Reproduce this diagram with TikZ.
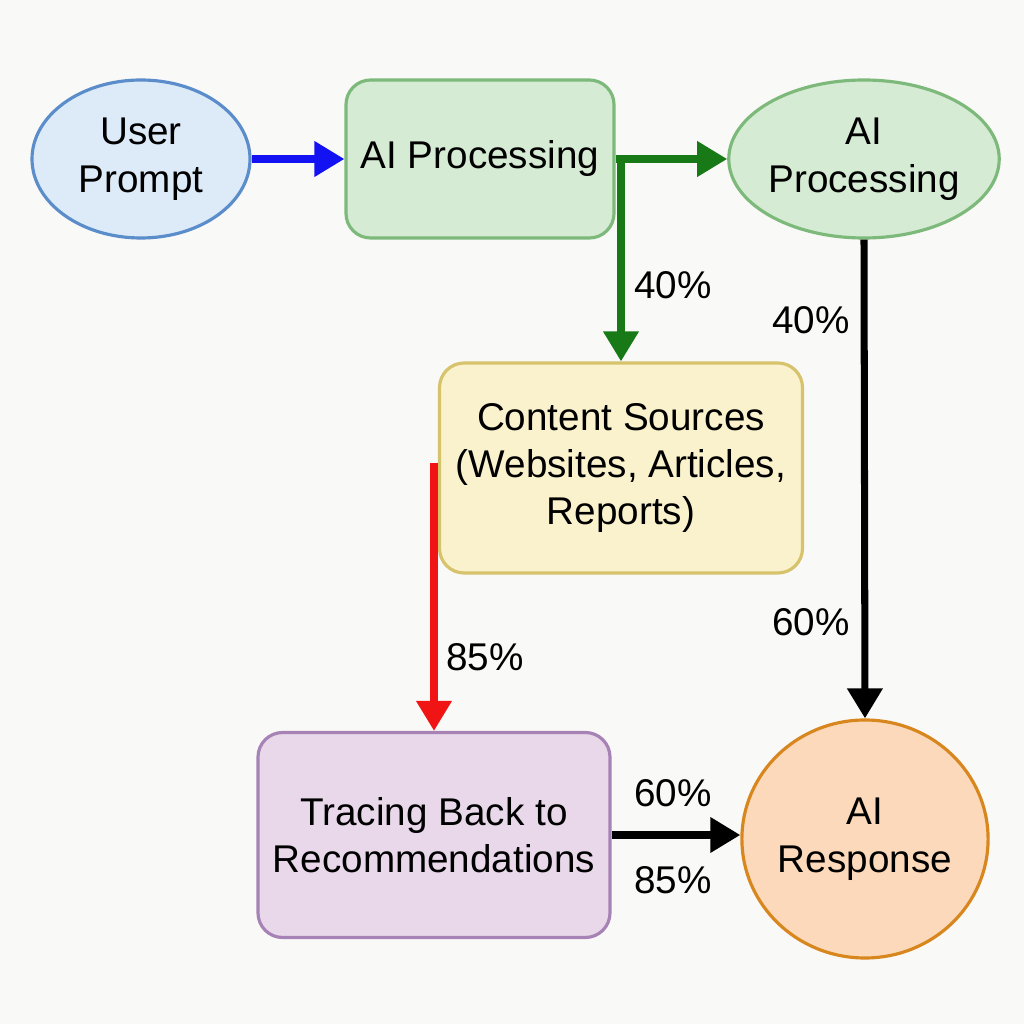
\documentclass[tikz,border=0pt]{standalone}
\usepackage{fontspec}
\setmainfont{Liberation Sans}
\usepackage{tikz}
\usetikzlibrary{arrows.meta,positioning,shapes.geometric,calc}
\definecolor{paper}{HTML}{F9F9F7}
\definecolor{userfill}{HTML}{DDEBF8}
\definecolor{userline}{HTML}{5B8DCB}
\definecolor{procfill}{HTML}{D5EBD3}
\definecolor{procline}{HTML}{7DB97A}
\definecolor{srcfill}{HTML}{FAF2CC}
\definecolor{srcline}{HTML}{D6C36C}
\definecolor{tracefill}{HTML}{E8D8EA}
\definecolor{traceline}{HTML}{A682B5}
\definecolor{respfill}{HTML}{FBD9BA}
\definecolor{respline}{HTML}{D8871F}
\definecolor{flowblue}{HTML}{1212F2}
\definecolor{flowgreen}{HTML}{177A17}
\definecolor{flowred}{HTML}{F01414}

\begin{document}
\begin{tikzpicture}[
  font=\fontsize{11}{13.5}\selectfont,
  oval/.style={ellipse,draw,line width=0.9pt,inner sep=0pt,align=center},
  box/.style={rectangle,draw,line width=0.9pt,rounded corners=7pt,inner sep=0pt,align=center},
  edge/.style={line width=2pt,-{Triangle[length=3mm,width=3.4mm]}},
  pct/.style={font=\fontsize{11}{13}\selectfont}
]
  \useasboundingbox (0,0) rectangle (10.24,10.24);
  \fill[paper] (0,0) rectangle (10.24,10.24);

  % nodes
  \node[oval,fill=userfill,draw=userline,minimum width=2.18cm,minimum height=1.58cm]
    (user) at (1.41,8.65) {User\\Prompt};
  \node[box,fill=procfill,draw=procline,minimum width=2.68cm,minimum height=1.58cm]
    (proc) at (4.80,8.65) {AI Processing};
  \node[oval,fill=procfill,draw=procline,minimum width=2.63cm,minimum height=1.58cm]
    (proc2) at (8.64,8.65) {AI\\Processing};
  \node[box,fill=srcfill,draw=srcline,minimum width=3.63cm,minimum height=2.10cm]
    (src) at (6.21,5.56) {Content Sources\\(Websites, Articles,\\Reports)};
  \node[box,fill=tracefill,draw=traceline,minimum width=3.52cm,minimum height=2.05cm]
    (trace) at (4.34,1.89) {Tracing Back to\\Recommendations};
  \node[oval,fill=respfill,draw=respline,minimum width=2.44cm,minimum height=2.38cm]
    (resp) at (8.65,1.85) {AI\\Response};

  % branch points
  \coordinate (split) at (src.north |- proc.east);
  \coordinate (tap) at ($(trace.north |- src.west)+(0,0.05)$);

  % connectors
  \draw[edge,flowblue] (user) -- (proc);
  \draw[edge,flowgreen] (proc.east) -- (proc2.west);
  \draw[edge,flowgreen] ($(split)+(0,0.035)$) -- (src.north);
  \draw[edge,flowred] (tap) -- (trace.north);
  \draw[edge,black] (proc2.south) -- (resp.north);
  \draw[edge,black] (trace.east) -- (resp.west |- trace.east);

  % shares
  \node[pct] (g40) at (6.73,7.39) {40\%};
  \node[pct] (k40) at (8.11,7.04) {40\%};
  \node[pct] (k60) at (8.11,4.02) {60\%};
  \node[pct] (r85) at (4.85,3.67) {85\%};
  \node[pct] (h60) at (6.73,2.31) {60\%};
  \node[pct] (h85) at (6.73,1.44) {85\%};
\end{tikzpicture}
\end{document}
